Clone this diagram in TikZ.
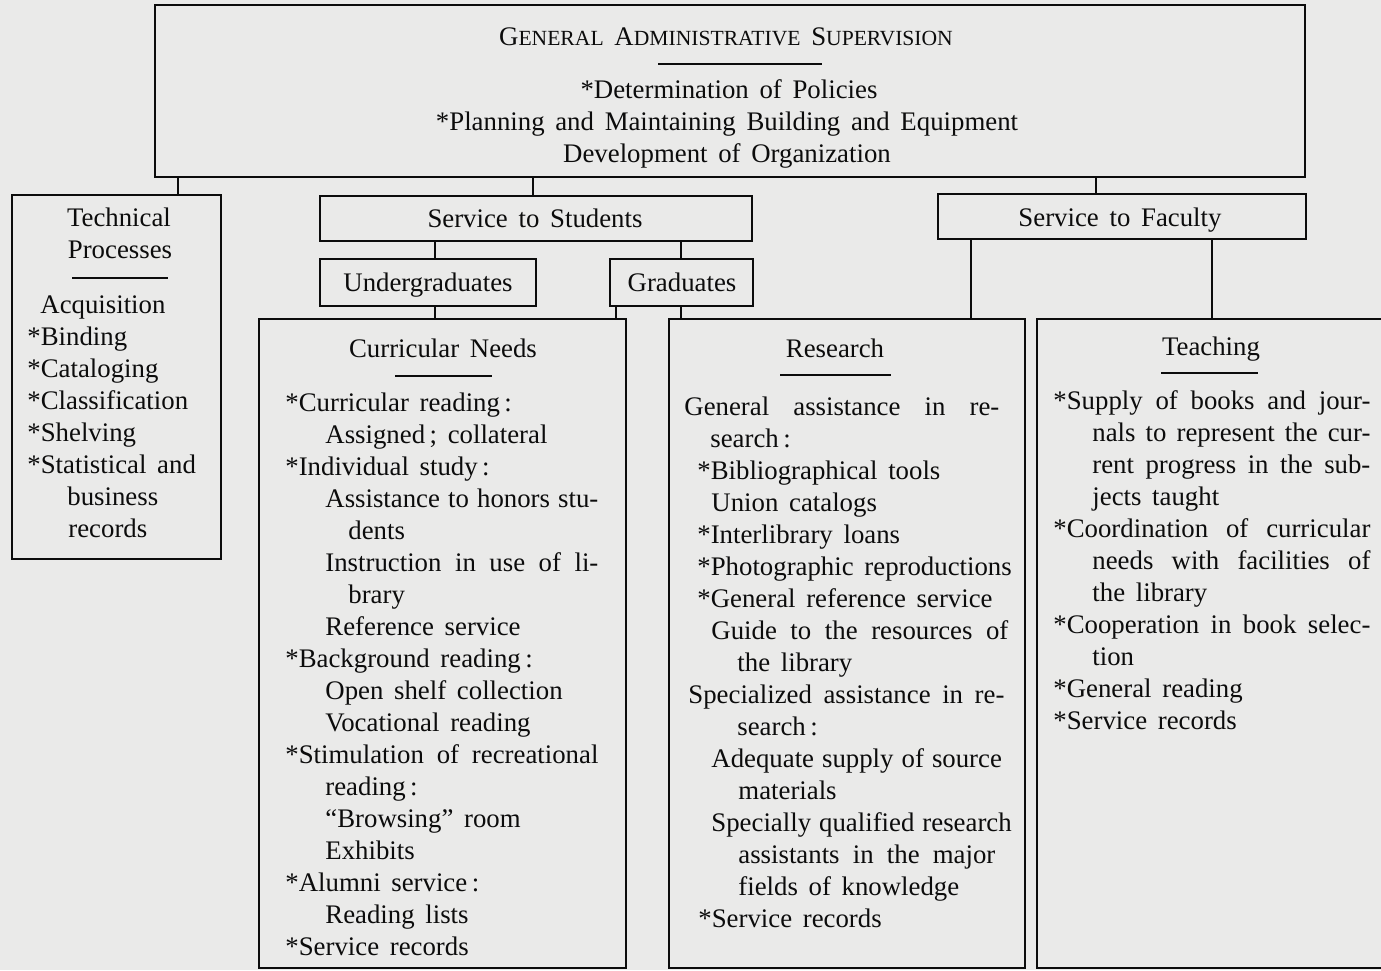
\documentclass[tikz,border=0pt]{standalone}
\usepackage{fontspec}
\setmainfont{Liberation Serif}
\definecolor{paper}{RGB}{234,234,233}
\definecolor{ink}{RGB}{12,12,12}
\newlength\upx \setlength\upx{0.5pt}
\newcommand\fs{\fontsize{13.4}{16}\selectfont\spaceskip=0.4em plus 0.2em minus 0.1em\relax}
\newcommand\fsc[2]{#1{\fontsize{10.8}{12}\selectfont #2}}
\tikzset{
  box/.style={draw=ink, line width=1.2pt, rectangle, inner sep=0pt},
  txt/.style={inner sep=0pt, text=ink, font=\fs},
  link/.style={draw=ink, line width=1.2pt},
  rule/.style={draw=ink, line width=1pt}
}
% box from (x1,y1) to (x2,y2)
\newcommand\bx[5]{\node[box, minimum width={(#4-#2)*0.5pt}, minimum height={(#5-#3)*0.5pt}] (#1) at ({(#2+#4)/2},{(#3+#5)/2}) {};}
\newcommand\Lw[4]{\node[txt, anchor=base west] (#1) at (#2,#3) {#4};}
\newcommand\Lc[4]{\node[txt, anchor=base] (#1) at (#2,#3) {#4};}
\newcommand\Lj[5]{\node[txt, anchor=base west] (#1) at (#2,#3) {\makebox[#4\upx][s]{#5}};}
\begin{document}
\begin{tikzpicture}[x=0.5pt, y=-0.5pt]
\fill[paper] (0,0) rectangle (1381,970);
\useasboundingbox (0,0) rectangle (1381,970);

% ---- boxes
\bx{top}{155}{5}{1305}{177}
\bx{tech}{12}{195}{221}{559}
\bx{sts}{320}{196}{752}{241}
\bx{stf}{938}{194}{1306}{239}
\bx{ug}{320}{259}{536}{306}
\bx{gr}{610}{259}{753}{306}
\bx{cur}{259}{319}{626}{968}
\bx{res}{669}{319}{1025}{968}
\bx{tea}{1037}{319}{1392}{968}

% ---- connector x positions
\coordinate (xtech) at (178,0);
\coordinate (xsts) at (533,0);
\coordinate (xstf) at (1096,0);
\coordinate (xug) at (435,0);
\coordinate (xgr) at (681,0);
\coordinate (xgc) at (616,0);
\coordinate (xfr) at (971,0);
\coordinate (xft) at (1212,0);

\draw[link] (top.south -| xtech) -- (tech.north -| xtech);
\draw[link] (top.south -| xsts) -- (sts.north -| xsts);
\draw[link] (top.south -| xstf) -- (stf.north -| xstf);
\draw[link] (sts.south -| xug) -- (ug.north -| xug);
\draw[link] (sts.south -| xgr) -- (gr.north -| xgr);
\draw[link] (ug.south -| xug) -- (cur.north -| xug);
\draw[link] (gr.south -| xgc) -- (cur.north -| xgc);
\draw[link] (gr.south -| xgr) -- (res.north -| xgr);
\draw[link] (stf.south -| xfr) -- (res.north -| xfr);
\draw[link] (stf.south -| xft) -- (tea.north -| xft);

% ---- top box text
\Lc{tt}{726}{45}{\fsc{G}{ENERAL} \fsc{A}{DMINISTRATIVE} \fsc{S}{UPERVISION}}
\coordinate (tra) at (658,64); \coordinate (trb) at (822,64);
\draw[rule] (tra) -- (trb);
\Lc{t1}{729}{98}{*Determination of Policies}
\Lc{t2}{727}{130}{*Planning and Maintaining Building and Equipment}
\Lc{t3}{727}{162}{Development of Organization}

% ---- small boxes
\Lc{stsT}{535}{227}{Service to Students}
\Lc{stfT}{1120}{226}{Service to Faculty}
\Lc{ugT}{428}{291}{Undergraduates}
\Lc{grT}{682}{291}{Graduates}

% ---- technical processes
\Lc{p0}{119}{226}{Technical}
\Lc{p1}{120}{258}{Processes}
\coordinate (pra) at (72,278); \coordinate (prb) at (168,278);
\draw[rule] (pra) -- (prb);
\Lw{p2}{40}{313}{Acquisition}
\Lw{p3}{27}{345}{*Binding}
\Lw{p4}{27}{377}{*Cataloging}
\Lw{p5}{27}{409}{*Classification}
\Lw{p6}{27}{441}{*Shelving}
\Lw{p7}{27}{473}{*Statistical and}
\Lw{p8}{67}{505}{business}
\Lw{p9}{68}{537}{records}

% ---- curricular needs
\Lc{c0}{443}{357}{Curricular Needs}
\coordinate (cra) at (395,376); \coordinate (crb) at (492,376);
\draw[rule] (cra) -- (crb);
\Lw{c1}{285}{411}{*Curricular reading\,:}
\Lw{c2}{325}{443}{Assigned\,; collateral}
\Lw{c3}{285}{475}{*Individual study\,:}
\Lj{c4}{325}{507}{273}{Assistance to honors stu-}
\Lw{c5}{348}{539}{dents}
\Lj{c6}{325}{571}{273}{Instruction in use of li-}
\Lw{c7}{348}{603}{brary}
\Lw{c8}{325}{635}{Reference service}
\Lw{c9}{285}{667}{*Background reading\,:}
\Lw{c10}{325}{699}{Open shelf collection}
\Lw{c11}{325}{731}{Vocational reading}
\Lj{c12}{285}{763}{313}{*Stimulation of recreational}
\Lw{c13}{325}{795}{reading\,:}
\Lw{c14}{325}{827}{“Browsing” room}
\Lw{c15}{325}{859}{Exhibits}
\Lw{c16}{285}{891}{*Alumni service\,:}
\Lw{c17}{325}{923}{Reading lists}
\Lw{c18}{285}{955}{*Service records}

% ---- research
\Lc{r0}{835}{357}{Research}
\coordinate (rra) at (780,375); \coordinate (rrb) at (891,375);
\draw[rule] (rra) -- (rrb);
\Lj{r1}{684}{415}{315}{General assistance in re-}
\Lw{r2}{710}{447}{search\,:}
\Lw{r3}{697}{479}{*Bibliographical tools}
\Lw{r4}{711}{511}{Union catalogs}
\Lw{r5}{697}{543}{*Interlibrary loans}
\Lw{r6}{697}{575}{*Photographic reproductions}
\Lw{r7}{697}{607}{*General reference service}
\Lj{r8}{711}{639}{297}{Guide to the resources of}
\Lw{r9}{737}{671}{the library}
\Lj{r10}{688}{703}{316}{Specialized assistance in re-}
\Lw{r11}{737}{735}{search\,:}
\Lj{r12}{711}{767}{290}{Adequate supply of source}
\Lw{r13}{738}{799}{materials}
\Lj{r14}{711}{831}{289}{Specially qualified research}
\Lj{r15}{738}{863}{257}{assistants in the major}
\Lw{r16}{738}{895}{fields of knowledge}
\Lw{r17}{698}{927}{*Service records}

% ---- teaching
\Lc{e0}{1211}{355}{Teaching}
\coordinate (era) at (1161,373); \coordinate (erb) at (1258,373);
\draw[rule] (era) -- (erb);
\Lj{e1}{1053}{409}{317}{*Supply of books and jour-}
\Lj{e2}{1092}{441}{278}{nals to represent the cur-}
\Lj{e3}{1092}{473}{278}{rent progress in the sub-}
\Lw{e4}{1092}{505}{jects taught}
\Lj{e5}{1053}{537}{317}{*Coordination of curricular}
\Lj{e6}{1092}{569}{278}{needs with facilities of}
\Lw{e7}{1092}{601}{the library}
\Lj{e8}{1053}{633}{317}{*Cooperation in book selec-}
\Lw{e9}{1092}{665}{tion}
\Lw{e10}{1053}{697}{*General reading}
\Lw{e11}{1053}{729}{*Service records}
\end{tikzpicture}
\end{document}
